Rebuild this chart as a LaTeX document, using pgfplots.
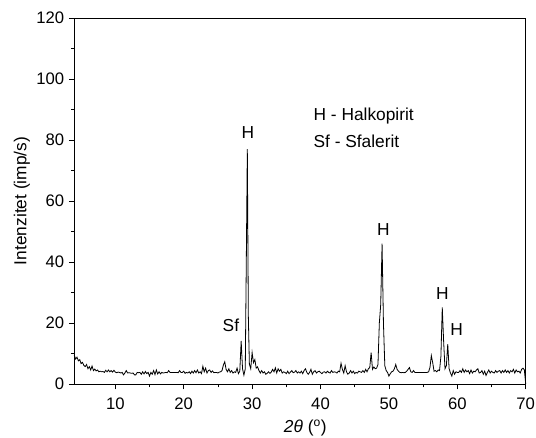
\documentclass[border=0pt]{standalone}
\usepackage{pgfplots}
\pgfplotsset{compat=1.18}
\usepackage{fontspec}
\setmainfont{Liberation Sans}

\pgfplotstableread{
x y
4.0 9.4
4.2 8.2
4.4 8.8
4.6 7.6
4.8 8.0
5.0 6.7
5.2 7.1
5.4 6.1
5.6 5.7
5.8 6.4
6.0 5.0
6.2 5.7
6.4 4.6
6.6 5.9
6.8 4.4
7.0 4.9
7.2 4.3
7.4 4.6
7.6 4.0
7.8 4.2
8.0 4.0
8.2 4.1
8.4 3.8
8.6 4.5
8.8 4.0
9.0 4.6
9.2 4.0
9.4 4.4
9.6 3.9
9.8 4.5
10.0 3.9
10.2 3.7
10.4 3.9
10.6 3.8
10.8 3.6
11.0 3.8
11.2 3.0
11.4 3.6
11.6 4.4
11.8 3.6
12.0 3.7
12.2 3.6
12.4 3.5
12.6 3.6
12.8 3.0
13.0 3.0
13.2 3.8
13.4 3.7
13.6 3.8
13.8 3.2
14.0 4.0
14.2 3.3
14.4 4.1
14.6 3.4
14.8 3.8
15.0 2.6
15.2 3.8
15.4 3.2
15.6 4.4
15.8 3.1
16.0 4.6
16.2 3.3
16.4 4.0
16.6 3.3
16.8 3.8
17.0 3.6
17.2 3.7
17.4 3.8
17.6 3.7
17.8 4.4
18.0 3.8
18.2 3.8
18.4 3.8
18.6 3.8
18.8 3.8
19.0 3.8
19.2 3.7
19.4 4.4
19.6 3.8
19.8 3.8
20.0 4.2
20.2 3.5
20.4 3.8
20.6 3.6
20.8 4.0
21.0 3.4
21.2 4.2
21.4 3.6
21.6 4.4
21.8 3.7
22.0 4.6
22.2 3.6
22.4 4.0
22.6 3.4
22.8 5.8
23.0 4.0
23.2 5.2
23.4 3.6
23.6 4.4
23.8 4.6
24.0 3.8
24.2 4.3
24.4 3.7
24.6 3.8
24.8 3.8
25.0 3.6
25.2 3.9
25.4 4.0
25.6 4.4
25.8 6.2
26.0 7.3
26.2 4.8
26.4 4.0
26.6 5.0
26.8 3.8
27.0 4.4
27.2 3.6
27.4 4.0
27.6 3.8
27.8 5.2
28.0 3.4
28.2 4.2
28.4 14.1
28.6 5.0
28.8 2.9
29.0 5.0
29.15 40.0
29.3 77.0
29.45 22.0
29.6 6.5
29.8 5.0
30.0 10.3
30.2 7.0
30.4 8.0
30.6 5.2
30.8 5.6
31.0 4.4
31.2 3.6
31.4 4.4
31.6 3.6
31.8 4.0
32.0 3.2
32.2 3.5
32.4 4.0
32.6 3.5
32.8 3.9
33.0 4.8
33.2 4.0
33.4 5.3
33.6 3.6
33.8 5.0
34.0 4.2
34.2 4.8
34.4 3.6
34.6 4.0
34.8 3.8
35.0 3.4
35.2 4.2
35.4 3.4
35.6 3.9
35.8 4.4
36.0 3.7
36.2 3.9
36.4 4.4
36.6 3.6
36.8 4.0
37.0 3.6
37.2 4.2
37.4 3.4
37.6 4.4
37.8 5.0
38.0 3.8
38.2 3.2
38.4 3.8
38.6 4.8
38.8 3.2
39.0 4.0
39.2 4.4
39.4 3.6
39.6 4.0
39.8 4.2
40.0 3.8
40.2 3.4
40.4 3.9
40.6 4.0
40.8 3.6
41.0 4.2
41.2 3.8
41.4 3.6
41.6 4.4
41.8 3.8
42.0 4.0
42.2 3.9
42.4 3.6
42.6 4.2
42.8 4.0
43.0 6.8
43.2 4.8
43.4 3.6
43.6 6.0
43.8 4.0
44.0 3.2
44.2 3.6
44.4 4.4
44.6 3.6
44.8 4.2
45.0 3.4
45.2 3.8
45.4 3.6
45.6 4.2
45.8 4.0
46.0 3.8
46.2 4.4
46.4 3.8
46.6 4.8
46.8 4.0
47.0 5.0
47.2 5.4
47.4 10.3
47.6 4.8
47.8 5.6
48.0 5.0
48.2 5.2
48.4 6.4
48.6 20.0
48.8 26.0
49.0 46.0
49.2 20.0
49.4 6.0
49.6 4.4
49.8 3.8
50.0 2.6
50.2 3.4
50.4 4.0
50.6 4.2
50.8 5.0
51.0 6.4
51.2 4.8
51.4 4.2
51.6 3.8
51.8 3.7
52.0 3.8
52.2 3.7
52.4 3.8
52.6 4.2
52.8 4.8
53.0 5.4
53.2 4.0
53.4 3.8
53.6 4.4
53.8 3.8
54.0 3.8
54.2 3.8
54.4 3.8
54.6 3.8
54.8 3.8
55.0 3.8
55.2 3.8
55.4 3.8
55.6 3.8
55.8 4.0
56.0 5.4
56.2 9.3
56.4 7.0
56.6 4.2
56.8 4.4
57.0 4.0
57.2 4.6
57.4 4.4
57.6 9.0
57.8 25.1
58.0 14.0
58.2 5.0
58.4 6.0
58.6 13.1
58.8 5.0
59.0 3.6
59.2 2.6
59.4 4.4
59.6 3.2
59.8 4.0
60.0 3.8
60.2 3.8
60.4 4.4
60.6 3.8
60.8 5.0
61.0 3.8
61.2 4.6
61.4 4.0
61.6 4.4
61.8 3.4
62.0 4.6
62.2 3.6
62.4 4.2
62.6 4.0
62.8 4.6
63.0 5.0
63.2 3.6
63.4 3.8
63.6 4.4
63.8 3.2
64.0 4.2
64.2 2.8
64.4 3.8
64.6 4.6
64.8 3.6
65.0 4.2
65.2 3.8
65.4 3.6
65.6 4.4
65.8 3.8
66.0 4.2
66.2 4.4
66.4 3.6
66.6 4.4
66.8 3.8
67.0 4.6
67.2 3.8
67.4 4.4
67.6 3.6
67.8 4.4
68.0 4.0
68.2 4.8
68.4 3.6
68.6 4.6
68.8 4.0
69.0 4.2
69.2 3.6
69.4 4.8
69.6 5.2
69.8 4.6
70.0 0.0
}\xrd

\begin{document}
\begin{tikzpicture}
\useasboundingbox (-55.7pt,-39.75pt) rectangle (346.3pt,288pt);
\begin{axis}[
  scale only axis,
  width=338.6pt, height=274.5pt,
  xmin=4, xmax=70, ymin=0, ymax=120,
  xtick={10,20,...,70}, ytick={0,20,...,120},
  minor x tick num=1, minor y tick num=1,
  tick align=outside, xtick pos=bottom, ytick pos=left,
  major tick length=4pt, minor tick length=2.5pt,
  every tick/.style={black, line width=0.6pt},
  axis line style={line width=0.7pt},
  /pgf/number format/assume math mode=true,
  tick label style={font=\fontsize{12.5}{14}\selectfont},
  xticklabel style={yshift=-3pt},
  label style={font=\fontsize{13}{15}\selectfont},
  xlabel={\textit{2θ} (\textsuperscript{o})},
  ylabel={Intenzitet (imp/s)},
  xlabel style={yshift=-0.5pt, xshift=4pt},
  ylabel style={yshift=-2pt},
  clip=false,
]
\addplot[black, line width=0.6pt, mark=none] table[x=x, y=y] {\xrd};
\node[font=\fontsize{13}{15}\selectfont] at (axis cs:29.4,82.5) {H};
\node[font=\fontsize{13}{15}\selectfont] at (axis cs:26.9,19.2) {Sf};
\node[font=\fontsize{13}{15}\selectfont] at (axis cs:49.2,50.5) {H};
\node[font=\fontsize{13}{15}\selectfont] at (axis cs:57.8,29.5) {H};
\node[font=\fontsize{13}{15}\selectfont] at (axis cs:59.9,18.0) {H};
\node[font=\fontsize{13}{15}\selectfont, anchor=west] at (axis cs:38.3,87.7) {H - Halkopirit};
\node[font=\fontsize{13}{15}\selectfont, anchor=west] at (axis cs:38.3,79.7) {Sf - Sfalerit};
\end{axis}
\end{tikzpicture}
\end{document}
